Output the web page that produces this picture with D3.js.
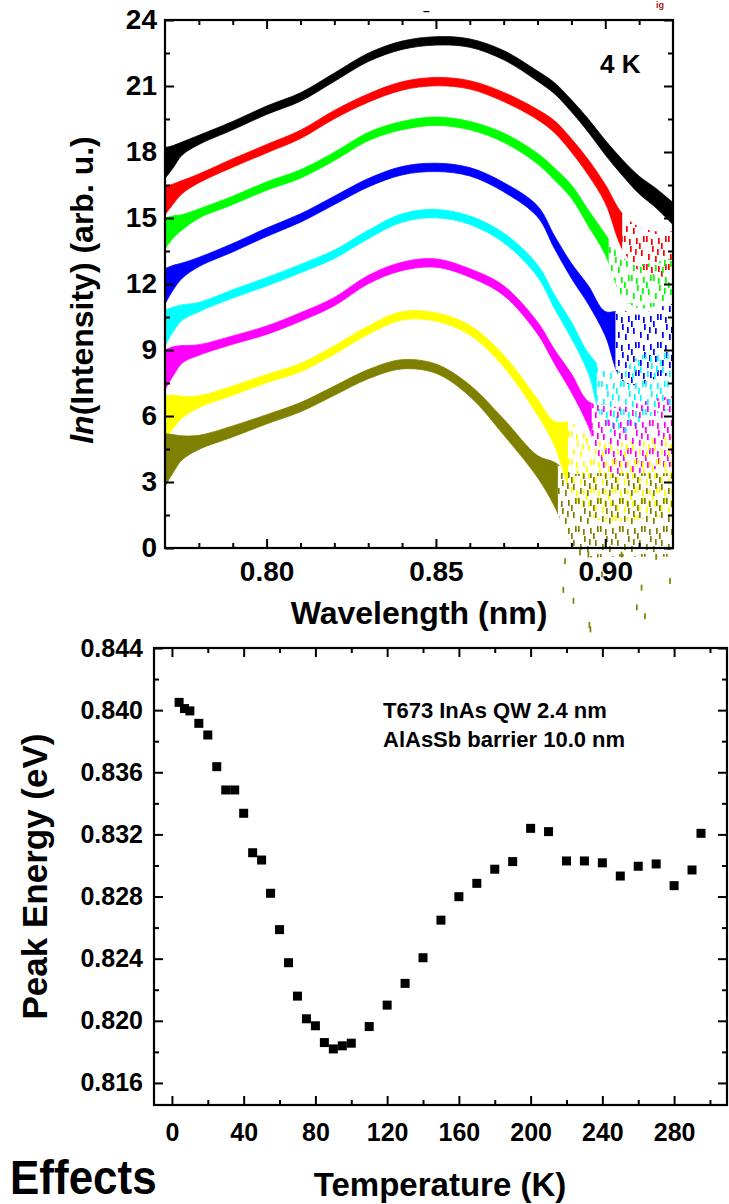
<!DOCTYPE html>
<html><head><meta charset="utf-8">
<script src="https://cdn.jsdelivr.net/npm/d3@7"></script>
<style>
body{margin:0;background:#fff}
svg{display:block}
text{font-family:"Liberation Sans",Arial,sans-serif;font-weight:bold;fill:#000}
</style>
</head><body>
<svg id="c" width="729" height="1204"></svg>
<script>
// ---------- DATA: top panel (spectra) ----------
const wavelengths = [0.770, 0.7725, 0.775, 0.780, 0.790, 0.800, 0.810, 0.820, 0.830, 0.840, 0.850, 0.860, 0.870, 0.880, 0.885, 0.890, 0.895, 0.900, 0.905, 0.910, 0.915, 0.920];
const seriesNames  = ["black","red","green","blue","cyan","magenta","yellow","olive"];
const seriesColors = ["#000000","#ff0000","#00ff00","#0000ff","#00ffff","#ff00ff","#ffff00","#808000"];

const blackValues   = [17.5, 17.8, 18.15, 18.55, 19.2, 19.9, 20.5, 21.4, 22.3, 22.85, 23.05, 22.95, 22.4, 21.45, 20.9, 20.1, 19.2, 18.2, 17.3, 16.5, 15.9, 15.2];
const redValues     = [15.8, 16.1, 16.4, 16.8, 17.5, 18.15, 18.8, 19.7, 20.45, 21.0, 21.2, 21.05, 20.5, 19.7, 19.15, 18.3, 17.3, 16.1, 14.4, 13.6, 13.4, 13.3];
const greenValues   = [14.3, 14.6, 14.8, 15.2, 15.8, 16.45, 17.0, 17.8, 18.7, 19.2, 19.4, 19.2, 18.65, 17.7, 17.0, 16.2, 15.0, 13.8, 12.3, 11.9, 12.0, 12.2];
const blueValues    = [11.9, 12.3, 12.6, 13.0, 13.65, 14.35, 15.0, 15.8, 16.6, 17.15, 17.3, 17.1, 16.4, 15.3, 13.9, 12.6, 11.5, 10.2, 9.2, 9.0, 9.3, 9.5];
const cyanValues    = [10.0, 10.4, 10.7, 10.95, 11.55, 12.1, 12.7, 13.35, 14.25, 15.0, 15.2, 14.9, 14.1, 12.6, 11.2, 9.9, 8.4, 6.8, 6.6, 7.2, 7.5, 7.6];
const magentaValues = [8.1, 8.5, 8.8, 9.0, 9.45, 9.9, 10.5, 11.2, 12.2, 12.8, 12.95, 12.5, 11.7, 10.0, 8.7, 7.5, 6.1, 5.0, 4.8, 5.0, 5.2, 5.3];
const yellowValues  = [5.9, 6.2, 6.4, 6.65, 7.15, 7.7, 8.2, 9.0, 9.9, 10.55, 10.5, 9.9, 8.5, 6.4, 5.2, 4.1, 3.3, 3.0, 3.0, 3.1, 3.2, 3.3];
const oliveValues   = [4.0, 4.3, 4.55, 4.8, 5.3, 5.85, 6.4, 7.15, 7.9, 8.35, 8.15, 7.15, 5.5, 3.7, 2.9, 1.8, 1.5, 1.5, 1.5, 1.5, 1.5, 1.5];

// half-width of the noise band
const blackSpread   = [0.7, 0.5, 0.3, 0.21, 0.19, 0.19, 0.19, 0.19, 0.19, 0.19, 0.19, 0.19, 0.21, 0.23, 0.25, 0.27, 0.3, 0.33, 0.36, 0.4, 0.44, 0.5];
const redSpread     = [0.65, 0.45, 0.3, 0.2, 0.19, 0.19, 0.19, 0.19, 0.19, 0.19, 0.19, 0.19, 0.21, 0.23, 0.27, 0.3, 0.35, 0.42, 0.8, 1.0, 1.0, 1.1];
const greenSpread   = [0.7, 0.5, 0.35, 0.21, 0.19, 0.19, 0.19, 0.19, 0.19, 0.19, 0.19, 0.19, 0.21, 0.24, 0.27, 0.3, 0.36, 0.46, 0.9, 1.0, 1.0, 1.0];
const blueSpread    = [0.8, 0.55, 0.35, 0.21, 0.19, 0.19, 0.19, 0.19, 0.19, 0.19, 0.19, 0.19, 0.21, 0.25, 0.29, 0.34, 0.42, 0.55, 1.6, 1.6, 1.6, 1.6];
const cyanSpread    = [0.8, 0.55, 0.35, 0.21, 0.19, 0.19, 0.19, 0.19, 0.19, 0.19, 0.19, 0.19, 0.22, 0.27, 0.31, 0.37, 0.46, 1.3, 1.5, 1.5, 1.4, 1.3];
const magentaSpread = [0.9, 0.65, 0.4, 0.24, 0.19, 0.19, 0.19, 0.19, 0.19, 0.19, 0.19, 0.19, 0.22, 0.27, 0.32, 0.42, 0.56, 1.5, 1.6, 1.6, 1.6, 1.6];
const yellowSpread  = [1.0, 0.75, 0.5, 0.27, 0.21, 0.19, 0.19, 0.19, 0.19, 0.19, 0.19, 0.22, 0.27, 0.36, 0.55, 1.6, 1.8, 1.8, 1.8, 1.8, 1.8, 1.8];
const oliveSpread   = [1.2, 0.85, 0.55, 0.32, 0.25, 0.21, 0.21, 0.21, 0.21, 0.21, 0.21, 0.26, 0.36, 0.5, 1.0, 1.6, 1.9, 1.9, 1.9, 1.9, 1.9, 1.9];

// wavelength where each trace stops being a dense band and turns into scattered dashes
const denseLimits = [0.92, 0.905, 0.901, 0.903, 0.8975, 0.896, 0.889, 0.886];

// isolated olive dashes that fall below the axis
const oliveOutlierWl  = [0.8876, 0.8906, 0.8950, 0.8953, 0.9048, 0.9093, 0.9107, 0.9117, 0.9191, 0.8881, 0.8925, 0.8956, 0.8990, 0.9150];
const oliveOutlierVal = [-1.9, -2.4, -0.3, -3.5, -0.3, -2.7, -1.8, -3.1, -1.5, -0.6, -0.2, -3.7, -1.2, -0.4];

const wlTicks = [0.80, 0.85, 0.90];
const wlTickLabels = ["0.80", "0.85", "0.90"];
const wlMinorTicks = [0.78, 0.79, 0.81, 0.82, 0.83, 0.84, 0.86, 0.87, 0.88, 0.89, 0.91];
const intensityTicks = [0, 3, 6, 9, 12, 15, 18, 21, 24];
const intensityMinorTicks = [1.5, 4.5, 7.5, 10.5, 13.5, 16.5, 19.5, 22.5];

// ---------- DATA: bottom panel ----------
const temperatures = [4, 7, 10, 15, 20, 25, 30, 35, 40, 45, 50, 55, 60, 65, 70, 75, 80, 85, 90, 95, 100, 110, 120, 130, 140, 150, 160, 170, 180, 190, 200, 210, 220, 230, 240, 250, 260, 270, 280, 290, 295];
const peakEnergies = [0.8405, 0.8401, 0.83995, 0.83915, 0.8384, 0.83636, 0.83486, 0.83486, 0.83336, 0.83082, 0.83035, 0.82821, 0.82587, 0.82374, 0.82159, 0.82013, 0.81968, 0.8186, 0.81819, 0.81839, 0.81856, 0.81963, 0.82101, 0.82241, 0.82406, 0.82648, 0.82799, 0.82885, 0.82976, 0.83025, 0.83239, 0.83218, 0.83029, 0.83029, 0.83017, 0.82932, 0.82995, 0.8301, 0.8287, 0.82971, 0.83207];
const tempTicks = [0, 40, 80, 120, 160, 200, 240, 280];
const tempMinorTicks = [20, 60, 100, 140, 180, 220, 260, 300];
const energyTicks = [0.816, 0.820, 0.824, 0.828, 0.832, 0.836, 0.840, 0.844];
const energyTickLabels = ["0.816", "0.820", "0.824", "0.828", "0.832", "0.836", "0.840", "0.844"];
const energyMinorTicks = [0.818, 0.822, 0.826, 0.830, 0.834, 0.838, 0.842];

// ---------- DRAW ----------
const svg = d3.select("#c");
const defs = svg.append("defs");

const seriesValues = [blackValues, redValues, greenValues, blueValues, cyanValues, magentaValues, yellowValues, oliveValues];
const seriesSpread = [blackSpread, redSpread, greenSpread, blueSpread, cyanSpread, magentaSpread, yellowSpread, oliveSpread];

// top panel
const T = {l:165, r:673, t:20, b:548};
const xW = d3.scaleLinear().domain([0.77, 0.92]).range([T.l, T.r]);
const yI = d3.scaleLinear().domain([0, 24]).range([T.b, T.t]);

// dash texture used for the scattered (noisy) parts of the spectra
const dashTile = [[1,1],[7,11],[13,3],[18,15],[3,19],[10,21],[16,8],[20,1],[12,14],[6,4]];
seriesColors.forEach((c, i) => {
  const p = defs.append("pattern").attr("id", "pat" + i)
    .attr("patternUnits", "userSpaceOnUse").attr("width", 22).attr("height", 28)
    .attr("patternTransform", `translate(${i*7},${i*11})`);
  dashTile.forEach(([dx, dy]) => p.append("rect").attr("x", dx).attr("y", dy)
    .attr("width", 1.7).attr("height", 6).attr("fill", c));
  defs.append("clipPath").attr("id", "dense" + i).append("rect")
    .attr("x", T.l).attr("y", 0).attr("width", xW(denseLimits[i]) - T.l).attr("height", 1204);
  defs.append("clipPath").attr("id", "scat" + i).append("rect")
    .attr("x", xW(denseLimits[i]) - 1).attr("y", 0).attr("width", T.r - xW(denseLimits[i]) + 1).attr("height", 1204);
});

const gTop = svg.append("g");
seriesNames.forEach((name, i) => {
  const pts = wavelengths.map((w, k) => ({w, v: seriesValues[i][k], s: seriesSpread[i][k]}));
  const area = d3.area().x(d => xW(d.w)).y0(d => yI(d.v - d.s)).y1(d => yI(d.v + d.s)).curve(d3.curveCatmullRom.alpha(0.5));
  gTop.append("path").attr("d", area(pts)).attr("fill", seriesColors[i])
    .attr("stroke", seriesColors[i]).attr("stroke-width", 0.8)
    .attr("clip-path", `url(#dense${i})`);
  gTop.append("path").attr("d", area(pts)).attr("fill", `url(#pat${i})`)
    .attr("clip-path", `url(#scat${i})`);
});
gTop.selectAll("rect.out").data(oliveOutlierWl).enter().append("rect")
  .attr("x", (d) => xW(d) - 0.8).attr("y", (d, k) => yI(oliveOutlierVal[k]) - 3)
  .attr("width", 1.7).attr("height", 6).attr("fill", seriesColors[7]);

function styleAxis(g, fs) {
  g.select(".domain").remove();
  g.selectAll("line").attr("stroke", "#000").attr("stroke-width", 2);
  g.selectAll("text").attr("font-size", fs).attr("font-family", '"Liberation Sans",Arial,sans-serif').attr("font-weight", "bold").attr("fill", "#000");
}
// top-panel axes
styleAxis(svg.append("g").attr("transform", `translate(0,${T.b})`)
  .call(d3.axisBottom(xW).tickValues(wlTicks).tickFormat((d, k) => wlTickLabels[k]).tickSize(-9).tickPadding(13)), 28);
styleAxis(svg.append("g").attr("transform", `translate(0,${T.b})`)
  .call(d3.axisBottom(xW).tickValues(wlMinorTicks).tickFormat("").tickSize(-5)), 0);
styleAxis(svg.append("g").attr("transform", `translate(0,${T.t})`)
  .call(d3.axisTop(xW).tickValues(wlTicks).tickFormat("").tickSize(-9)), 0);
styleAxis(svg.append("g").attr("transform", `translate(0,${T.t})`)
  .call(d3.axisTop(xW).tickValues(wlMinorTicks).tickFormat("").tickSize(-5)), 0);
styleAxis(svg.append("g").attr("transform", `translate(${T.l},0)`)
  .call(d3.axisLeft(yI).tickValues(intensityTicks).tickFormat(d3.format("d")).tickSize(-9).tickPadding(8)), 28);
styleAxis(svg.append("g").attr("transform", `translate(${T.l},0)`)
  .call(d3.axisLeft(yI).tickValues(intensityMinorTicks).tickFormat("").tickSize(-5)), 0);
styleAxis(svg.append("g").attr("transform", `translate(${T.r},0)`)
  .call(d3.axisRight(yI).tickValues(intensityTicks).tickFormat("").tickSize(-9)), 0);
styleAxis(svg.append("g").attr("transform", `translate(${T.r},0)`)
  .call(d3.axisRight(yI).tickValues(intensityMinorTicks).tickFormat("").tickSize(-5)), 0);
svg.append("rect").attr("x", T.l).attr("y", T.t).attr("width", T.r - T.l).attr("height", T.b - T.t)
  .attr("fill", "none").attr("stroke", "#000").attr("stroke-width", 2.2);

svg.append("text").attr("x", 600).attr("y", 73).attr("font-size", 26).text("4 K");
svg.append("text").attr("x", (T.l + T.r) / 2).attr("y", 624).attr("text-anchor", "middle").attr("font-size", 32).text("Wavelength (nm)");
const yl = svg.append("text").attr("transform", `translate(93,${(T.t + T.b) / 2 + 6}) rotate(-90)`)
  .attr("text-anchor", "middle").attr("font-size", 32);
yl.append("tspan").attr("font-style", "italic").text("ln");
yl.append("tspan").text("(Intensity) (arb. u.)");
svg.append("text").attr("x", 423).attr("y", 15).attr("font-size", 12).attr("font-weight", "normal").text("–");
svg.append("text").attr("x", 656).attr("y", 8).attr("font-size", 9).attr("font-weight", "normal").style("fill", "#a02020").text("ig");

// bottom panel
const B = {l:154, r:727, t:648, b:1105};
const xT = d3.scaleLinear().domain([-10, 309.5]).range([B.l, B.r]);
const yE = d3.scaleLinear().domain([0.81458, 0.844]).range([B.b, B.t]);

styleAxis(svg.append("g").attr("transform", `translate(0,${B.b})`)
  .call(d3.axisBottom(xT).tickValues(tempTicks).tickFormat(d3.format("d")).tickSize(-9).tickPadding(18)), 25);
styleAxis(svg.append("g").attr("transform", `translate(0,${B.b})`)
  .call(d3.axisBottom(xT).tickValues(tempMinorTicks).tickFormat("").tickSize(-5)), 0);
styleAxis(svg.append("g").attr("transform", `translate(0,${B.t})`)
  .call(d3.axisTop(xT).tickValues(tempTicks).tickFormat("").tickSize(-9)), 0);
styleAxis(svg.append("g").attr("transform", `translate(0,${B.t})`)
  .call(d3.axisTop(xT).tickValues(tempMinorTicks).tickFormat("").tickSize(-5)), 0);
styleAxis(svg.append("g").attr("transform", `translate(${B.l},0)`)
  .call(d3.axisLeft(yE).tickValues(energyTicks).tickFormat((d, k) => energyTickLabels[k]).tickSize(-9).tickPadding(11)), 25);
styleAxis(svg.append("g").attr("transform", `translate(${B.l},0)`)
  .call(d3.axisLeft(yE).tickValues(energyMinorTicks).tickFormat("").tickSize(-5)), 0);
styleAxis(svg.append("g").attr("transform", `translate(${B.r},0)`)
  .call(d3.axisRight(yE).tickValues(energyTicks).tickFormat("").tickSize(-9)), 0);
styleAxis(svg.append("g").attr("transform", `translate(${B.r},0)`)
  .call(d3.axisRight(yE).tickValues(energyMinorTicks).tickFormat("").tickSize(-5)), 0);
svg.append("rect").attr("x", B.l).attr("y", B.t).attr("width", B.r - B.l).attr("height", B.b - B.t)
  .attr("fill", "none").attr("stroke", "#000").attr("stroke-width", 2.2);

const sq = 9;
svg.append("g").selectAll("rect").data(temperatures).enter().append("rect")
  .attr("x", d => xT(d) - sq / 2).attr("y", (d, k) => yE(peakEnergies[k]) - sq / 2)
  .attr("width", sq).attr("height", sq).attr("fill", "#000");

svg.append("text").attr("x", 383).attr("y", 718).attr("font-size", 22).text("T673 InAs QW 2.4 nm");
svg.append("text").attr("x", 383).attr("y", 747).attr("font-size", 22).text("AlAsSb barrier 10.0 nm");
svg.append("text").attr("transform", `translate(47,${(B.t + B.b) / 2}) rotate(-90)`)
  .attr("text-anchor", "middle").attr("font-size", 35).text("Peak Energy (eV)");
svg.append("text").attr("x", 440).attr("y", 1196).attr("text-anchor", "middle").attr("font-size", 33).text("Temperature (K)");
svg.append("text").attr("transform", "translate(10,1194) scale(1,1.1)").attr("font-size", 44).text("Effects");
</script>
</body></html>
